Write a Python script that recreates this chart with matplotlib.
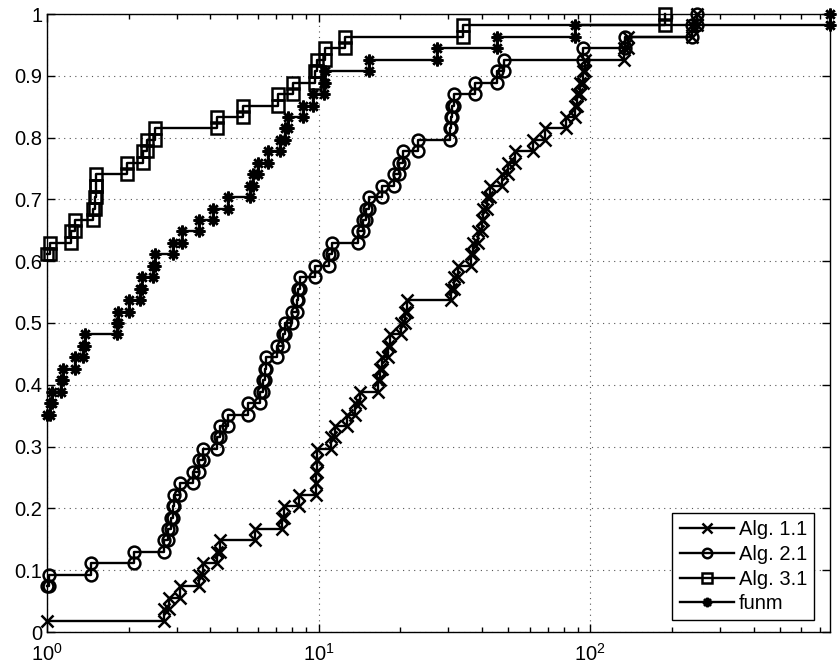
import numpy as np
import matplotlib
matplotlib.use('Agg')
import matplotlib.pyplot as plt

plt.rcParams['font.family'] = ['Liberation Sans', 'DejaVu Sans']
plt.rcParams['mathtext.fontset'] = 'custom'
plt.rcParams['mathtext.rm'] = 'Liberation Sans'

n_problems = 54
theta_max = 765.0

# performance ratios, one per test problem
alg11_ratios = [1.0, 2.70, 2.82, 3.09, 3.63, 3.77, 4.22, 4.34, 5.84, 7.32,
                7.45, 8.50, 9.79, 9.82, 9.85, 9.88, 11.1, 11.5, 12.7, 13.6,
                14.2, 16.5, 16.85, 17.1, 18.1, 18.3, 20.2, 20.8, 21.1, 30.7,
                31.6, 32.7, 36.4, 37.1, 38.8, 39.9, 40.4, 41.6, 42.8, 47.3,
                50.0, 52.9, 61.8, 68.3, 81.6, 88.1, 89.3, 91.9, 94.5, 95.5,
                133.0, 138.0, 237.0, 248.0]
alg21_ratios = [1.0, 1.0, 1.0, 1.0, 1.02, 1.45, 2.09, 2.69, 2.78, 2.87,
                2.90, 2.93, 3.09, 3.45, 3.62, 3.75, 4.22, 4.34, 4.65, 5.52,
                6.09, 6.24, 6.34, 6.43, 7.02, 7.42, 7.53, 7.98, 8.31, 8.41,
                8.53, 9.73, 10.9, 11.2, 14.0, 14.6, 15.0, 15.3, 17.1, 18.9,
                19.8, 20.5, 23.3, 30.5, 30.8, 31.1, 31.6, 37.7, 45.3, 48.0,
                94.5, 134.0, 237.0, 248.0]
alg31_ratios = [1.0] * 33 + [1.025, 1.23, 1.27, 1.48, 1.50, 1.51, 1.52, 1.97,
                             2.26, 2.33, 2.50, 4.22, 5.28, 7.11, 8.08, 9.71,
                             9.84, 10.6, 12.5, 34.1, 189.0]
funm_ratios = [1.0] * 19 + [1.025, 1.04, 1.13, 1.15, 1.27, 1.36, 1.38, 1.81,
                            1.83, 2.0, 2.20, 2.23, 2.46, 2.50, 2.90, 3.13,
                            3.64, 4.1, 4.66, 5.59, 5.75, 6.0, 6.53, 7.21,
                            7.53, 7.74, 8.75, 9.57, 10.45, 10.6, 15.3, 27.3,
                            45.3, 88.1, 765.0]

labels = ['Alg. 1.1', 'Alg. 2.1', 'Alg. 3.1', 'funm']
markers = ['x', 'o', 's', (8, 2, 0)]


def profile_xy(ratios):
    """stair vertices of the performance profile"""
    r = np.sort(np.asarray(ratios, dtype=float))
    theta = np.unique(r)
    prob = np.searchsorted(r, theta, side='right') / n_problems
    k = np.repeat(np.arange(len(theta)), 2)
    return theta[k[1:]], prob[k[:-1]]


fig = plt.figure(figsize=(8.4, 6.68), dpi=100)
ax = fig.add_axes([47 / 840, 1 - 632 / 668, 783 / 840, 618 / 668])

all_ratios = [alg11_ratios, alg21_ratios, alg31_ratios, funm_ratios]
for ratios, lab, mk in zip(all_ratios, labels, markers):
    xs, ys = profile_xy(ratios)
    ax.plot(xs, ys, color='black', lw=1.7, marker=mk, ms=8.5,
            mfc='none', mec='black', mew=1.8, label=lab, clip_on=False)

ax.set_xscale('log')
ax.set_xlim(1, theta_max)
ax.set_ylim(0, 1)
ax.set_yticks(np.arange(0, 1.01, 0.1))
ax.set_yticklabels(['0', '0.1', '0.2', '0.3', '0.4', '0.5', '0.6', '0.7',
                    '0.8', '0.9', '1'])

ax.grid(True, which='major', linestyle=(0, (1, 4)), color='#555555', lw=0.8)
ax.tick_params(which='both', direction='in', top=True, right=True,
               labelsize=14.5, width=1, color='black')
ax.tick_params(which='major', length=6)
ax.tick_params(which='minor', length=3.5)
ax.tick_params(axis='x', pad=8)
for sp in ax.spines.values():
    sp.set_linewidth(1.0)

leg = ax.legend(loc='lower right', bbox_to_anchor=(0.98, 0.019),
                borderaxespad=0, fontsize=14.5, fancybox=False,
                edgecolor='black', framealpha=1, handlelength=2.7,
                handletextpad=0.25, labelspacing=0.28, borderpad=0.35,
                markerscale=0.8)
leg.get_frame().set_linewidth(1.0)

plt.savefig('out.png', dpi=100)
